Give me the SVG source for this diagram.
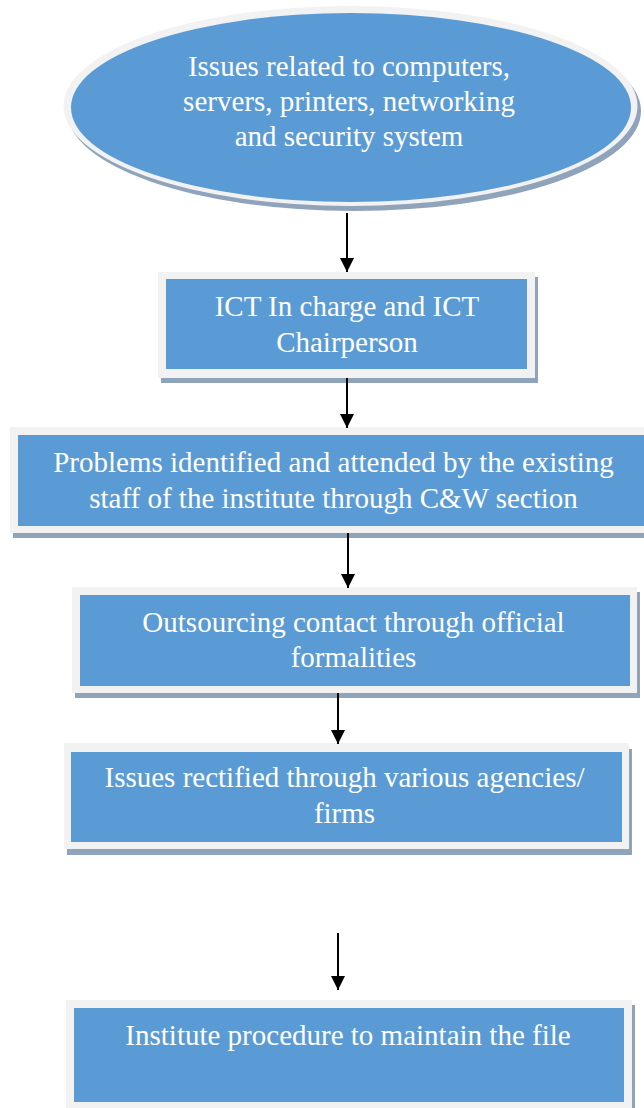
<svg xmlns="http://www.w3.org/2000/svg" width="644" height="1108" viewBox="0 0 644 1108">
<defs>
<style>
.sh{fill:#8fa4bb}
.bd{fill:#f2f2f2}
.in{fill:#5b9bd5}
text{font-family:'Liberation Serif','Times New Roman','DejaVu Serif',serif;font-size:29px;fill:#ffffff;text-anchor:middle}
.c{stroke:#000;stroke-width:2;fill:none}
</style>
<marker id="ah" viewBox="0 0 10 10" refX="10" refY="5" markerWidth="14" markerHeight="14" markerUnits="userSpaceOnUse" orient="auto">
<path d="M0,0 L10,5 L0,10 z" fill="#000"/>
</marker>
</defs>
<rect width="644" height="1108" fill="#fff"/>
<g id="n1" font-family="Liberation Serif, serif">
<ellipse class="sh" cx="354" cy="111" rx="287" ry="100"/>
<ellipse class="bd" cx="350.5" cy="106" rx="287" ry="100"/>
<ellipse class="in" cx="351" cy="107.5" rx="280" ry="94.5"/>
<text x="349" y="76">Issues related to computers,</text>
<text x="349" y="111">servers, printers, networking</text>
<text x="349" y="146">and security system</text>
</g>
<g id="n2">
<rect class="sh" x="161" y="277" width="377" height="106"/>
<rect class="bd" x="158" y="272" width="377" height="106"/>
<rect class="in" x="166" y="279" width="361" height="90"/>
<text x="347" y="316">ICT In charge and ICT</text>
<text x="347" y="352">Chairperson</text>
</g>
<g id="n3">
<rect class="sh" x="13" y="432" width="648" height="106"/>
<rect class="bd" x="10" y="427" width="648" height="106"/>
<rect class="in" x="18" y="435" width="632" height="91"/>
<text x="333.5" y="472">Problems identified and attended by the existing</text>
<text x="333.5" y="508">staff of the institute through C&amp;W section</text>
</g>
<g id="n4">
<rect class="sh" x="75" y="592" width="565" height="106"/>
<rect class="bd" x="72" y="587" width="565" height="106"/>
<rect class="in" x="80" y="595" width="550" height="91"/>
<text x="353.5" y="632">Outsourcing contact through official</text>
<text x="353.5" y="667">formalities</text>
</g>
<g id="n5">
<rect class="sh" x="67" y="749" width="565" height="106"/>
<rect class="bd" x="64" y="743" width="565" height="106"/>
<rect class="in" x="71" y="752" width="551" height="90"/>
<text x="344.5" y="787">Issues rectified through various agencies/</text>
<text x="344.5" y="823">firms</text>
</g>
<g id="n6">
<rect class="sh" x="69" y="1005" width="566" height="106"/>
<rect class="bd" x="66" y="1000" width="566" height="108"/>
<rect class="in" x="74" y="1008" width="550" height="94"/>
<text x="348" y="1045">Institute procedure to maintain the file</text>
</g>
<g id="connectors">
<line class="c" x1="347" y1="213" x2="347" y2="272" marker-end="url(#ah)"/>
<line class="c" x1="347" y1="378" x2="347" y2="428" marker-end="url(#ah)"/>
<line class="c" x1="348" y1="533" x2="348" y2="588" marker-end="url(#ah)"/>
<line class="c" x1="338" y1="693" x2="338" y2="744" marker-end="url(#ah)"/>
<line class="c" x1="338" y1="933" x2="338" y2="990" marker-end="url(#ah)"/>
</g>
</svg>
